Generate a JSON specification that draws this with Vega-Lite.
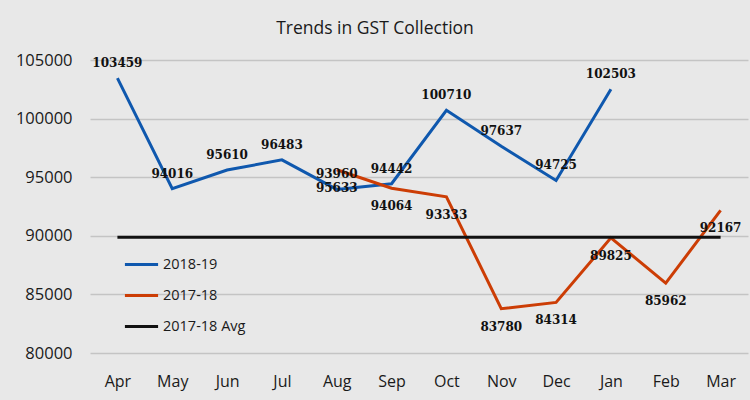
{
  "$schema": "https://vega.github.io/schema/vega-lite/v6.json",
  "autosize": "none",
  "width": 658,
  "height": 293,
  "padding": {"left": 90, "top": 60, "right": 2, "bottom": 47},
  "background": "#e8e8e8",
  "title": {
    "text": "Trends in GST Collection",
    "font": "Open Sans",
    "fontSize": 17.5,
    "fontWeight": "normal",
    "color": "#1a1a1a",
    "anchor": "middle",
    "dx": -44,
    "offset": 15
  },
  "config": {
    "view": {"stroke": null},
    "axis": {"labelFont": "Open Sans", "labelColor": "#1a1a1a", "titleFont": "Open Sans"}
  },
  "data": {
    "values": [
      {"month": "Apr", "series": "2018-19", "value": 103459},
      {"month": "May", "series": "2018-19", "value": 94016},
      {"month": "Jun", "series": "2018-19", "value": 95610},
      {"month": "Jul", "series": "2018-19", "value": 96483},
      {"month": "Aug", "series": "2018-19", "value": 93960},
      {"month": "Sep", "series": "2018-19", "value": 94442},
      {"month": "Oct", "series": "2018-19", "value": 100710},
      {"month": "Nov", "series": "2018-19", "value": 97637},
      {"month": "Dec", "series": "2018-19", "value": 94725},
      {"month": "Jan", "series": "2018-19", "value": 102503},
      {"month": "Aug", "series": "2017-18", "value": 95633},
      {"month": "Sep", "series": "2017-18", "value": 94064},
      {"month": "Oct", "series": "2017-18", "value": 93333},
      {"month": "Nov", "series": "2017-18", "value": 83780},
      {"month": "Dec", "series": "2017-18", "value": 84314},
      {"month": "Jan", "series": "2017-18", "value": 89825},
      {"month": "Feb", "series": "2017-18", "value": 85962},
      {"month": "Mar", "series": "2017-18", "value": 92167},
      {"month": "Apr", "series": "2017-18 Avg", "value": 89885},
      {"month": "Mar", "series": "2017-18 Avg", "value": 89885}
    ]
  },
  "encoding": {
    "x": {
      "field": "month",
      "type": "ordinal",
      "sort": ["Apr", "May", "Jun", "Jul", "Aug", "Sep", "Oct", "Nov", "Dec", "Jan", "Feb", "Mar"],
      "scale": {"domain": ["Apr", "May", "Jun", "Jul", "Aug", "Sep", "Oct", "Nov", "Dec", "Jan", "Feb", "Mar"], "paddingInner": 0, "paddingOuter": 0.5},
      "axis": {
        "title": null,
        "labelAngle": 0,
        "ticks": false,
        "domain": false,
        "labelFontSize": 16,
        "labelPadding": 20,
        "grid": false
      }
    },
    "y": {
      "field": "value",
      "type": "quantitative",
      "scale": {"domain": [80000, 105000], "nice": false, "zero": false},
      "axis": {
        "title": null,
        "values": [80000, 85000, 90000, 95000, 100000, 105000],
        "format": "d",
        "ticks": false,
        "domain": false,
        "labelFontSize": 16.5,
        "labelPadding": 18,
        "gridColor": "#c4c4c4",
        "gridWidth": 1.5
      }
    }
  },
  "layer": [
    {
      "mark": {"type": "line", "strokeWidth": 3},
      "encoding": {
        "color": {
          "field": "series",
          "type": "nominal",
          "scale": {
            "domain": ["2018-19", "2017-18", "2017-18 Avg"],
            "range": ["#0f58ae", "#cc3d05", "#111111"]
          },
          "legend": {
            "title": null,
            "orient": "none",
            "legendX": 33,
            "legendY": 186,
            "symbolType": "stroke",
            "symbolSize": 1100,
            "symbolStrokeWidth": 3,
            "labelFont": "Open Sans",
            "labelFontSize": 14.5,
            "labelColor": "#1a1a1a",
            "labelOffset": 3,
            "rowPadding": 6
          }
        }
      }
    },
    {
      "transform": [{"filter": "datum.series === '2018-19'"}],
      "mark": {"type": "text", "dy": -15, "font": "DejaVu Serif", "fontWeight": "bold", "fontSize": 12, "color": "#111111"},
      "encoding": {"text": {"field": "value", "type": "quantitative", "format": "d"}}
    },
    {
      "transform": [{"filter": "datum.series === '2017-18'"}],
      "mark": {"type": "text", "dy": 18, "font": "DejaVu Serif", "fontWeight": "bold", "fontSize": 12, "color": "#111111"},
      "encoding": {"text": {"field": "value", "type": "quantitative", "format": "d"}}
    }
  ]
}
